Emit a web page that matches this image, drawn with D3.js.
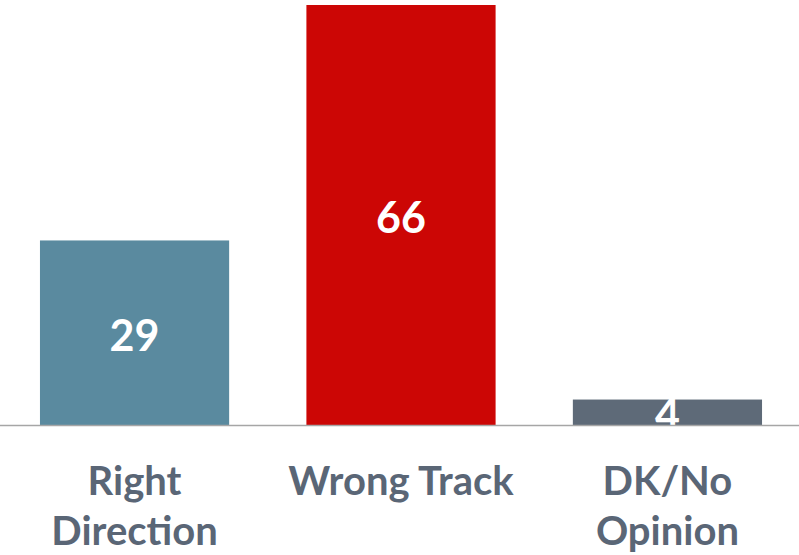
<html>
<head>
<meta charset="UTF-8">
<script src="https://d3js.org/d3.v7.min.js"></script>
<style>
  body{ margin:0; background:#fff; }
  svg{ display:block; }
</style>
</head>
<body>
<svg width="799" height="555"></svg>
<script>
  // data
  var categories = ["Right Direction", "Wrong Track", "DK/No Opinion"];
  var labelLines = [["Right", "Direction"], ["Wrong Track"], ["DK/No", "Opinion"]];
  var values = [29, 66, 4];
  var barColors = ["#5a8a9f", "#cc0605", "#5e6a78"];

  var width = 799, height = 555;
  var baseY = 425;

  var xScale = d3.scaleBand()
      .domain(categories)
      .range([0, 802])
      .paddingInner(0.29)
      .paddingOuter(0.15);

  var yScale = d3.scaleLinear()
      .domain([0, 66])
      .range([baseY, 5]);

  var svg = d3.select("svg");

  var bars = svg.selectAll("g.bar")
      .data(categories)
      .enter()
      .append("g")
      .classed("bar", true);

  bars.append("rect")
      .attr("x", function(d){ return xScale(d); })
      .attr("y", function(d, i){ return yScale(values[i]); })
      .attr("width", xScale.bandwidth())
      .attr("height", function(d, i){ return baseY - yScale(values[i]); })
      .attr("fill", function(d, i){ return barColors[i]; });

  // baseline
  svg.append("line")
      .attr("x1", 0).attr("x2", width)
      .attr("y1", baseY + 0.5).attr("y2", baseY + 0.5)
      .attr("stroke", "#a6a6a6")
      .attr("stroke-width", 1.5);

  // value labels (white, centered in bar)
  bars.append("text")
      .attr("x", function(d){ return xScale(d) + xScale.bandwidth() / 2; })
      .attr("y", function(d, i){ return (yScale(values[i]) + baseY) / 2 + 18; })
      .attr("text-anchor", "middle")
      .attr("font-family", "Lato, 'Open Sans', sans-serif")
      .attr("font-weight", "bold")
      .attr("font-size", 43)
      .attr("fill", "#fff")
      .text(function(d, i){ return values[i]; });

  // category labels
  var cat = svg.selectAll("text.cat")
      .data(categories)
      .enter()
      .append("text")
      .classed("cat", true)
      .attr("text-anchor", "middle")
      .attr("font-family", "Lato, 'Open Sans', sans-serif")
      .attr("font-weight", "bold")
      .attr("font-size", 40)
      .attr("fill", "#5a6676");

  cat.selectAll("tspan")
      .data(function(d, i){ return labelLines[i].map(function(t){ return {t: t, c: d}; }); })
      .enter()
      .append("tspan")
      .attr("x", function(d){ return xScale(d.c) + xScale.bandwidth() / 2; })
      .attr("y", function(d, j){ return 495 + j * 50; })
      .text(function(d){ return d.t; });
</script>
</body>
</html>
